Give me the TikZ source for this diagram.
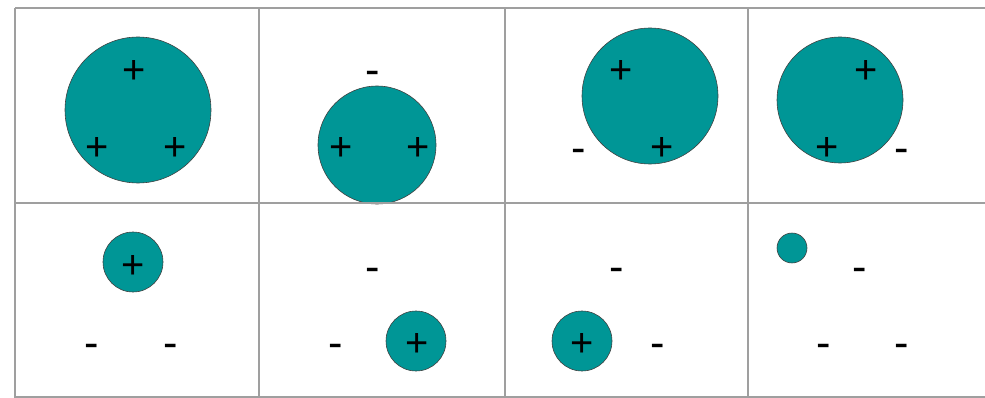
\documentclass[tikz,border=0pt]{standalone}
\usepackage{fontspec}
\newfontfamily\signfont{Liberation Sans}
\definecolor{discfill}{RGB}{0,150,150}
\begin{document}
\begin{tikzpicture}[x=0.03cm, y=-0.03cm,
    grid/.style={draw=gray!75, line width=1.1pt},
    disc/.style={circle, draw=black!75, line width=0.5pt, fill=discfill, inner sep=0pt, minimum size=#1*0.06cm},
    sgn/.style={font=\signfont\fontsize{34}{38}\selectfont, inner sep=0pt},
    possgn/.style={sgn, yshift=-0.08cm},
    negsgn/.style={sgn, font=\signfont\fontsize{37}{40}\selectfont, yshift=-0.19cm}]
  \useasboundingbox (0,0) rectangle (985,398);
  % discs, radius in px
  \node[disc=73] (d1) at (138,110) {};
  \node[disc=59] (d2) at (377,145) {};
  \node[disc=68] (d3) at (650,96) {};
  \node[disc=63] (d4) at (840,100) {};
  \node[disc=30] (d5) at (133,262) {};
  \node[disc=30] (d6) at (416,341) {};
  \node[disc=30] (d7) at (582,341) {};
  \node[disc=15] (d8) at (792,248) {};
  % positive points
  \foreach \x/\y [count=\k] in {134/69, 97/146, 175/146, 341/146, 418/146,
      621/69, 662/146, 866/69, 827/146, 133/264, 417/342, 582/342}
    \node[possgn] (p\k) at (\x,\y) {+};
  % negative points
  \foreach \x/\y [count=\k] in {373/72, 579/150, 902/150, 92/345, 171/345,
      373/269, 336/345, 617/269, 658/345, 860/269, 824/345, 902/345}
    \node[negsgn] (m\k) at (\x,\y) {-};
  % table lines
  \foreach \x in {15,259,505,748}
    \draw[grid] (\x,8) -- (\x,398);
  \foreach \y in {8,203,397}
    \draw[grid] (15,\y) -- (985,\y);
\end{tikzpicture}
\end{document}
